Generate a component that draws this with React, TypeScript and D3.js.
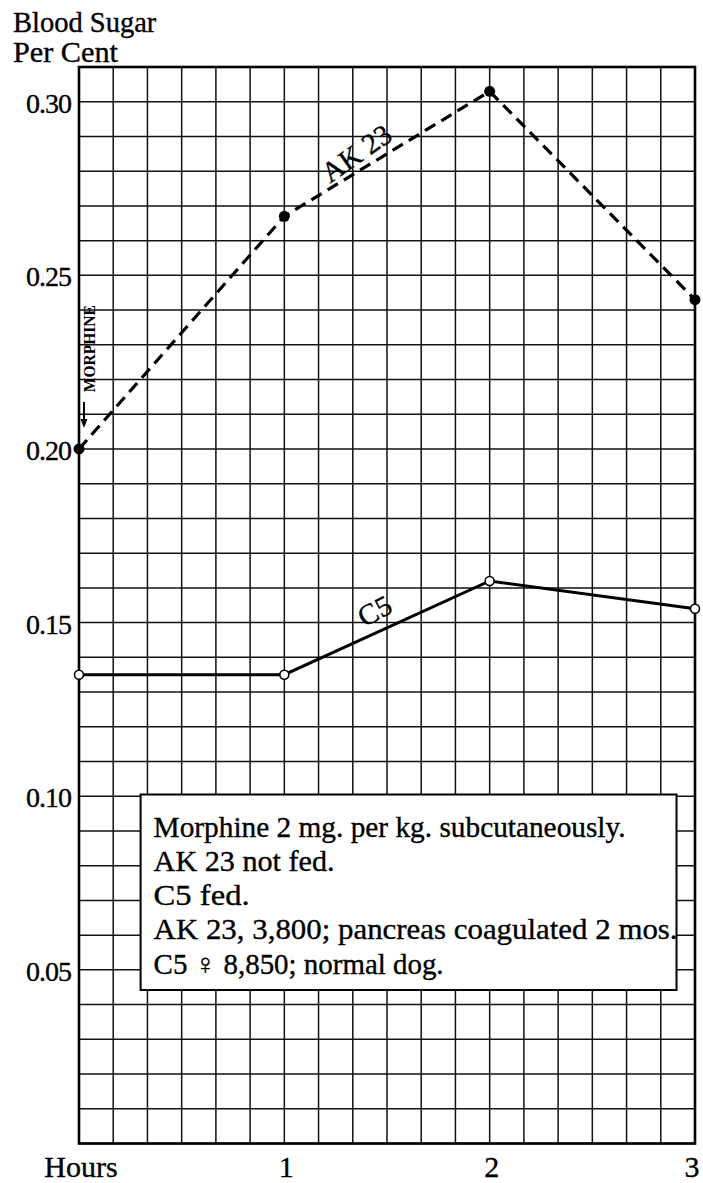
import React from 'react';
import * as d3 from 'd3';

// chart values
const hours = [0, 1, 2, 3];
const ak23 = [0.2, 0.267, 0.303, 0.243];
const c5 = [0.135, 0.135, 0.162, 0.154];
const yTicks = [0.05, 0.1, 0.15, 0.2, 0.25, 0.3];
const yTickLabels = ['0.05', '0.10', '0.15', '0.20', '0.25', '0.30'];
const xTickLabels = ['Hours', '1', '2', '3'];
const noteLines = [
  'Morphine 2 mg. per kg. subcutaneously.',
  'AK 23 not fed.',
  'C5  fed.',
  'AK 23,  3,800; pancreas coagulated 2 mos.',
  'C5 \u2640 8,850; normal dog.',
];
const noteWidths = [472, 181, 96, 524, 290];

const W = 703;
const H = 1183;
const FONT = '"Liberation Serif", "DejaVu Serif", serif';

const App: React.FC = () => {
  const x = d3.scaleLinear().domain([0, 3]).range([79, 695]);
  const y = d3.scaleLinear().domain([0, 0.31]).range([1143.5, 67]);

  const vGrid = d3.range(0, 19).map(i => i / 6);
  const hGrid = d3.range(0, 32).map(i => i / 100);

  const line = d3.line<number>()
    .x((_, i) => x(hours[i]))
    .y(d => y(d));

  // arrow next to the morphine note, pointing at the first reading
  const arrowX = x(0) + 5;
  const arrowTip = y(ak23[0]) - 21;

  // notes box, placed in data units
  const boxX0 = x(0.3);
  const boxX1 = x(2.91);
  const boxY0 = y(0.1005);
  const boxY1 = y(0.0442);

  const ink = { fill: '#000', stroke: '#000', strokeWidth: 0.35 };

  return (
    <svg
      width={W}
      height={H}
      viewBox={`0 0 ${W} ${H}`}
      style={{ position: 'absolute', left: 0, top: 0, background: '#fff' }}
      fontFamily={FONT}
    >
      <rect x={0} y={0} width={W} height={H} fill="#fff" />

      {/* grid */}
      {vGrid.map((d, i) => (
        <line key={'v' + i} x1={x(d)} x2={x(d)} y1={y(0.31)} y2={y(0)} stroke="#111" strokeWidth={1.5} />
      ))}
      {hGrid.map((d, i) => (
        <line key={'h' + i} x1={x(0)} x2={x(3)} y1={y(d)} y2={y(d)} stroke="#111" strokeWidth={1.5} />
      ))}
      <rect
        x={x(0)}
        y={y(0.31)}
        width={x(3) - x(0)}
        height={y(0) - y(0.31)}
        fill="none"
        stroke="#000"
        strokeWidth={2.6}
      />

      {/* axis titles */}
      <text x={13} y={32} fontSize={28.5} {...ink}>Blood Sugar</text>
      <text x={13} y={62} fontSize={28.5} {...ink} textLength={105} lengthAdjust="spacingAndGlyphs">Per Cent</text>

      {yTicks.map((d, i) => (
        <text key={'yt' + i} x={71} y={y(d) + 11} fontSize={28} textAnchor="end" {...ink} letterSpacing={-1}>
          {yTickLabels[i]}
        </text>
      ))}
      {hours.map((d, i) => (
        <text key={'xt' + i} x={x(d) + (i === 3 ? -3 : 2)} y={1177} fontSize={30} textAnchor="middle" {...ink}>
          {xTickLabels[i]}
        </text>
      ))}

      {/* morphine marker */}
      <text
        transform={`translate(${x(0) + 16},${y(0.2289)}) rotate(-90)`}
        fontSize={17}
        fontWeight="bold"
        textAnchor="middle"
        fill="#000"
        textLength={87}
        lengthAdjust="spacingAndGlyphs"
      >
        MORPHINE
      </text>
      <line x1={arrowX} x2={arrowX} y1={arrowTip - 26} y2={arrowTip - 4} stroke="#000" strokeWidth={2} />
      <path d={`M${arrowX - 3.5},${arrowTip - 9} L${arrowX},${arrowTip} L${arrowX + 3.5},${arrowTip - 9} Z`} fill="#000" />

      {/* series */}
      <path d={line(ak23) || ''} fill="none" stroke="#000" strokeWidth={3.2} strokeDasharray="12,7" />
      <path d={line(c5) || ''} fill="none" stroke="#000" strokeWidth={3} />
      {ak23.map((d, i) => (
        <circle key={'a' + i} cx={x(hours[i])} cy={y(d)} r={5.5} fill="#000" />
      ))}
      {c5.map((d, i) => (
        <circle key={'c' + i} cx={x(hours[i])} cy={y(d)} r={4.5} fill="#fff" stroke="#000" strokeWidth={1.6} />
      ))}

      {/* series labels */}
      <text
        transform={`translate(${x(1.36)},${y(0.2844)}) rotate(-35)`}
        fontSize={29}
        textAnchor="middle"
        dominantBaseline="middle"
        {...ink}
      >
        AK 23
      </text>
      <text
        transform={`translate(${x(1.447)},${y(0.1526)}) rotate(-28)`}
        fontSize={29}
        textAnchor="middle"
        dominantBaseline="middle"
        {...ink}
      >
        C5
      </text>

      {/* notes box */}
      <rect x={boxX0} y={boxY0} width={boxX1 - boxX0} height={boxY1 - boxY0} fill="#fff" stroke="#000" strokeWidth={2} />
      {noteLines.map((t, i) => (
        <text
          key={'n' + i}
          x={boxX0 + 13}
          y={boxY0 + 42 + i * 34.3}
          fontSize={29}
          {...ink}
          textLength={noteWidths[i]}
          lengthAdjust="spacingAndGlyphs"
        >
          {t}
        </text>
      ))}
    </svg>
  );
};

export default App;
